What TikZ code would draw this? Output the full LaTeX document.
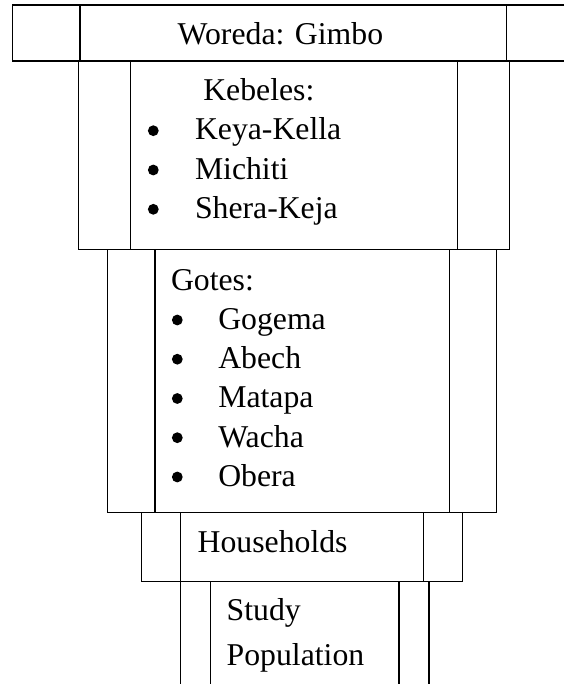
\documentclass[tikz,border=0pt]{standalone}
\usepackage{fontspec}
\setmainfont{Liberation Serif}
\begin{document}
\begin{tikzpicture}[x=0.75pt,y=-0.75pt,
  frame/.style={draw=black,line width=0.9pt},
  txt/.style={inner sep=0pt,outer sep=0pt,anchor=base west,font=\fontsize{23.8}{28}\selectfont},
  bul/.style={circle,fill=black,inner sep=0pt,outer sep=0pt,minimum size=8.1pt}]
\useasboundingbox (0,0) rectangle (564,684);
% Woreda box (open to the right edge)
\draw[frame] (564,5) -- (12.3,5) -- (12.3,61) -- (564,61);
\draw[frame] (80,5) -- (80,61);
\draw[frame] (506.3,5) -- (506.3,61);
% Kebeles box
\draw[frame] (78.7,61) rectangle (509.7,249.5);
\draw[frame] (130.7,61) -- (130.7,249.5);
\draw[frame] (457.7,61) -- (457.7,249.5);
% Gotes box
\draw[frame] (107.7,249.5) rectangle (496.3,512.7);
\draw[frame] (155,249.5) -- (155,512.7);
\draw[frame] (449.7,249.5) -- (449.7,512.7);
% Households box
\draw[frame] (141.7,512.7) rectangle (462.7,581.7);
\draw[frame] (180.3,512.7) -- (180.3,581.7);
\draw[frame] (423.3,512.7) -- (423.3,581.7);
% Study population (open at bottom)
\draw[frame] (180.3,581.7) -- (180.3,684);
\draw[frame] (210.7,581.7) -- (210.7,684);
\draw[frame] (399,581.7) -- (399,684);
\draw[frame] (429,581.7) -- (429,684);
% texts
\node[txt] (woreda) at (177.7,44.3) {Woreda: Gimbo};
\node[txt] (kebeles) at (203.3,100.7) {Kebeles:};
\node[bul] (kb1) at (153.3,130.7) {};
\node[bul] (kb2) at (153.3,170) {};
\node[bul] (kb3) at (153.3,209.3) {};
\node[txt] (k1) at (195,140) {Keya-Kella};
\node[txt] (k2) at (195,179.3) {Michiti};
\node[txt] (k3) at (195,218.6) {Shera-Keja};
\node[txt] (gotes) at (171,290) {Gotes:};
\node[bul] (gb1) at (177.3,320) {};
\node[bul] (gb2) at (177.3,359.2) {};
\node[bul] (gb3) at (177.3,398.5) {};
\node[bul] (gb4) at (177.3,437.7) {};
\node[bul] (gb5) at (177.3,477) {};
\node[txt] (g1) at (218.3,329.3) {Gogema};
\node[txt] (g2) at (218.3,368.5) {Abech};
\node[txt] (g3) at (218.3,407.8) {Matapa};
\node[txt] (g4) at (218.3,447) {Wacha};
\node[txt] (g5) at (218.3,486.3) {Obera};
\node[txt] (hh) at (197.7,552.7) {Households};
\node[txt] (study) at (226.7,620.7) {Study};
\node[txt] (pop) at (226.7,665.7) {Population};
\end{tikzpicture}
\end{document}
